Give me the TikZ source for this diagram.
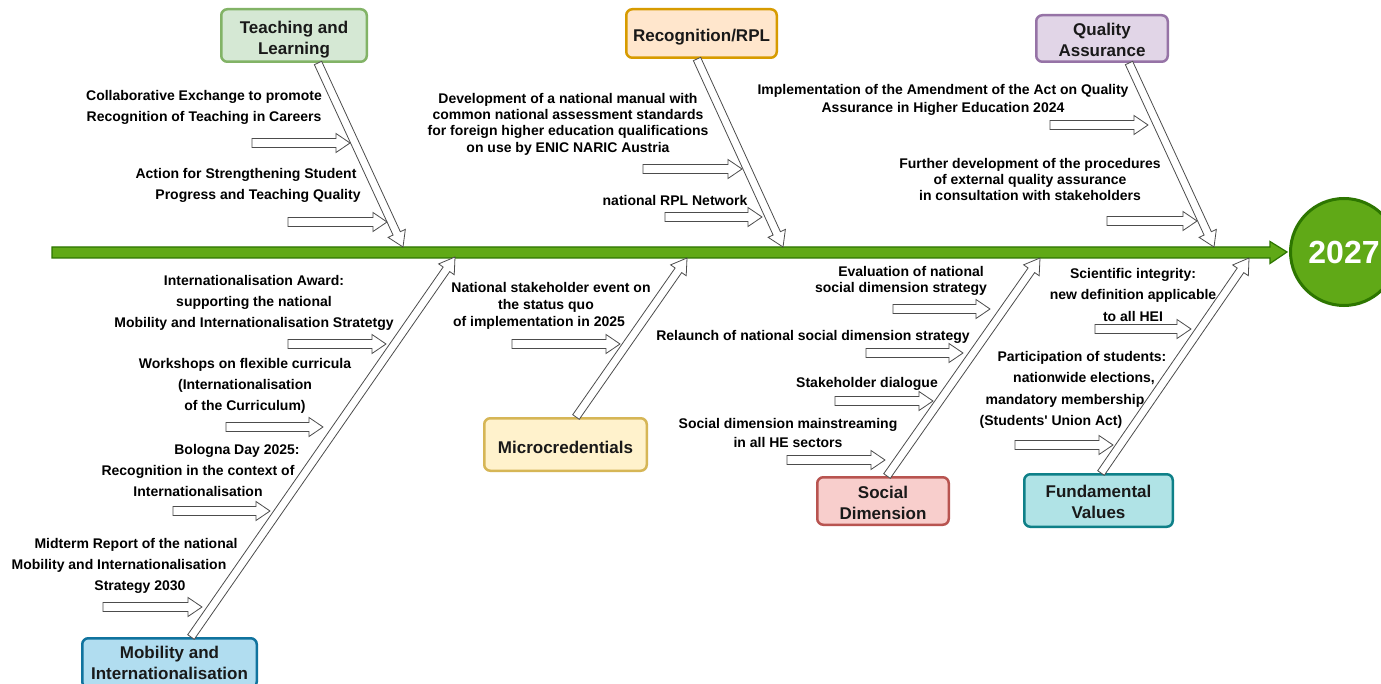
\documentclass[tikz,border=0pt]{standalone}
\usepackage{fontspec}
\setmainfont{Liberation Sans}
\usetikzlibrary{calc}
\definecolor{spinefill}{HTML}{60A917}
\definecolor{spinedraw}{HTML}{2D7600}
\definecolor{tlfill}{HTML}{D5E8D4}\definecolor{tldraw}{HTML}{82B366}
\definecolor{rpfill}{HTML}{FFE6CC}\definecolor{rpdraw}{HTML}{D79B00}
\definecolor{qafill}{HTML}{E1D5E7}\definecolor{qadraw}{HTML}{9673A6}
\definecolor{mifill}{HTML}{B1DDF0}\definecolor{midraw}{HTML}{10739E}
\definecolor{mcfill}{HTML}{FFF2CC}\definecolor{mcdraw}{HTML}{D6B656}
\definecolor{sdfill}{HTML}{F8CECC}\definecolor{sddraw}{HTML}{B85450}
\definecolor{fvfill}{HTML}{B0E3E6}\definecolor{fvdraw}{HTML}{0E8088}
\tikzset{
  item/.style={font=\bfseries\fontsize{14}{21}\selectfont, align=center, inner sep=0pt, text=black},
  cat/.style={rounded corners=6pt, line width=2.5pt, align=center, inner sep=0pt,
    font=\bfseries\fontsize{17}{21}\selectfont, text=black!90},
  harrow/.style={draw=black!70, fill=white, line width=0.8pt, line join=miter},
  spine/.style={fill=spinefill, draw=spinedraw, line width=1.2pt, line join=miter},
}
\newcommand\padbox[1]{\hbox to #1{\hfil}}
\newcommand\dnstrut[1]{\rule{0pt}{#1}}
% #1 start, #2 tip, #3 shaft half width, #4 head half width, #5 head length
\newcommand\hollowarr[5]{%
  \path ($(#2)!#5!(#1)$) coordinate (hN);
  \draw[harrow] ($(#1)!#3!90:(#2)$) -- ($(hN)!#3!90:(#2)$) -- ($(hN)!#4!90:(#2)$) -- (#2)
    -- ($(hN)!#4!-90:(#2)$) -- ($(hN)!#3!-90:(#2)$) -- ($(#1)!#3!-90:(#2)$) -- cycle;}
\newcommand\subarr[2]{\hollowarr{#1}{#2}{4.5pt}{9.5pt}{14pt}}
\newcommand\branch[2]{\hollowarr{#1}{#2}{4pt}{9.5pt}{15pt}}
\begin{document}
\begin{tikzpicture}[x=1pt,y=-1pt]
\fill[white] (0,0) rectangle (1381,684);
\useasboundingbox (0,0) rectangle (1381,684);

% year circle
\node[circle, fill=spinefill, draw=spinedraw, line width=3pt, minimum size=107pt, inner sep=0pt,
  text=white, font=\bfseries\fontsize{32}{32}\selectfont] (yr) at (1344,252) {2027};
\coordinate (sp0) at (52,252.5);
\coordinate (spT) at ([xshift=-2pt]yr.west);
\draw[spine] (sp0 |- 0,247) -- (1270,247) -- (1270,241.5) -- (spT) -- (1270,263.5) -- (1270,258) -- (sp0 |- 0,258) -- cycle;

% category boxes
\node[cat, fill=tlfill, draw=tldraw, minimum width=145.5pt, minimum height=52.5pt] (tl) at (294,35.5) {\dnstrut{20.4pt}Teaching and\\Learning};
\node[cat, fill=rpfill, draw=rpdraw, minimum width=150.5pt, minimum height=48.5pt] (rp) at (701.5,33.5) {\dnstrut{20.4pt}Recognition/RPL};
\node[cat, fill=qafill, draw=qadraw, minimum width=131.5pt, minimum height=46.5pt] (qa) at (1102,38.5) {\dnstrut{14.4pt}Quality\\Assurance};
\node[cat, fill=mifill, draw=midraw, minimum width=174.5pt, minimum height=49.5pt] (mi) at (169.5,663) {Mobility and\\Internationalisation};
\node[cat, fill=mcfill, draw=mcdraw, minimum width=162.5pt, minimum height=52.5pt] (mc) at (565.5,444.5) {\dnstrut{18.4pt}Microcredentials};
\node[cat, fill=sdfill, draw=sddraw, minimum width=131.5pt, minimum height=47.5pt] (sd) at (883,501) {\dnstrut{15.4pt}Social\\Dimension};
\node[cat, fill=fvfill, draw=fvdraw, minimum width=148.5pt, minimum height=52.5pt] (fv) at (1098.5,500.5) {\dnstrut{15.4pt}Fundamental\\Values};

% branch arrows
\coordinate (tlS) at ([xshift=24pt]tl.south);   \coordinate (tlE) at (403,247);
\coordinate (rpS) at ([xshift=-4.5pt]rp.south); \coordinate (rpE) at (783,247);
\coordinate (qaS) at ([xshift=27pt]qa.south);   \coordinate (qaE) at (1214,247);
\coordinate (miS) at ([xshift=21.5pt]mi.north); \coordinate (miE) at (455,257);
\coordinate (mcS) at ([xshift=10.5pt]mc.north); \coordinate (mcE) at (687,258);
\coordinate (sdS) at ([xshift=4pt]sd.north);    \coordinate (sdE) at (1040,258);
\coordinate (fvS) at ([xshift=2.5pt]fv.north);  \coordinate (fvE) at (1249,258);
\branch{tlS}{tlE}
\branch{rpS}{rpE}
\branch{qaS}{qaE}
\branch{miS}{miE}
\branch{mcS}{mcE}
\branch{sdS}{sdE}
\branch{fvS}{fvE}

% item texts
\node[item] (t1) at (204,107) {Collaborative Exchange to promote\\Recognition of Teaching in Careers};
\node[item] (t2) at (252,185) {Action for Strengthening Student\padbox{12pt}\\\padbox{12pt}Progress and Teaching Quality};
\node[item, font=\bfseries\fontsize{14}{16.3}\selectfont] (r1) at (568,124) {Development of a national manual with\\common national assessment standards\\for foreign higher education qualifications\\on use by ENIC NARIC Austria};
\node[item] (r2) at (675,200) {national RPL Network};
\node[item, font=\bfseries\fontsize{14}{18}\selectfont] (q1) at (943,99.5) {Implementation of the Amendment of the Act on Quality\\Assurance in Higher Education 2024};
\node[item, font=\bfseries\fontsize{14}{16}\selectfont] (q2) at (1030,179.5) {Further development of the procedures\\of external quality assurance\\in consultation with stakeholders};
\node[item] (m1) at (254,302.5) {Internationalisation Award:\\supporting the national\\Mobility and Internationalisation Stratetgy};
\node[item] (m2) at (245,386) {Workshops on flexible curricula\\(Internationalisation\\of the Curriculum)};
\node[item] (m3) at (198,470) {\padbox{78pt}Bologna Day 2025:\\Recognition in the context of\\Internationalisation};
\node[item] (m4) at (130,566) {\padbox{12pt}Midterm Report of the national\\Mobility and Internationalisation\padbox{22pt}\\\padbox{20pt}Strategy 2030};
\node[item, font=\bfseries\fontsize{14}{17}\selectfont] (c1) at (546,305.5) {\padbox{10pt}National stakeholder event on\\the status quo\\of implementation in 2025\padbox{14pt}};
\node[item, font=\bfseries\fontsize{14}{16}\selectfont] (s1) at (906,280.5) {\padbox{10pt}Evaluation of national\\social dimension strategy\padbox{10pt}};
\node[item] (s2) at (813,336.5) {Relaunch of national social dimension strategy};
\node[item] (s3) at (867,383.5) {Stakeholder dialogue};
\node[item, font=\bfseries\fontsize{14}{19}\selectfont] (s4) at (788,432.5) {Social dimension mainstreaming\\in all HE sectors};
\node[item, font=\bfseries\fontsize{14}{21.5}\selectfont] (f1) at (1133,294.5) {Scientific integrity:\\new definition applicable\\to all HEI};
\node[item, font=\bfseries\fontsize{14}{21.3}\selectfont] (f2) at (1070,390) {\padbox{24pt}Participation of students:\\\padbox{28pt}nationwide elections,\\mandatory membership\padbox{10pt}\\(Students\textquotesingle\ Union Act)\padbox{38pt}};

% sub arrows
\coordinate (t1a) at (252,143);  \coordinate (t1b) at (350,143);
\coordinate (t2a) at (288,222);  \coordinate (t2b) at (387,222);
\coordinate (r1a) at (643,169);  \coordinate (r1b) at (742,169);
\coordinate (r2a) at (665,217);  \coordinate (r2b) at (762,217);
\coordinate (q1a) at (1050,125); \coordinate (q1b) at (1148,125);
\coordinate (q2a) at (1107,221); \coordinate (q2b) at (1197,221);
\coordinate (m1a) at (288,344);  \coordinate (m1b) at (386,344);
\coordinate (m2a) at (226,427);  \coordinate (m2b) at (323,427);
\coordinate (m3a) at (173,511);  \coordinate (m3b) at (270,511);
\coordinate (m4a) at (103,607);  \coordinate (m4b) at (202,607);
\coordinate (c1a) at (512,344);  \coordinate (c1b) at (620,344);
\coordinate (s1a) at (893,309);  \coordinate (s1b) at (990,309);
\coordinate (s2a) at (866,353);  \coordinate (s2b) at (963,353);
\coordinate (s3a) at (835,401);  \coordinate (s3b) at (933,401);
\coordinate (s4a) at (787,460);  \coordinate (s4b) at (885,460);
\coordinate (f1a) at (1095,329); \coordinate (f1b) at (1191,329);
\coordinate (f2a) at (1015,445); \coordinate (f2b) at (1113,445);
\foreach \k in {t1,t2,r1,r2,q1,q2,m1,m2,m3,m4,c1,s1,s2,s3,s4,f1,f2}{\subarr{\k a}{\k b}}
\end{tikzpicture}
\end{document}
